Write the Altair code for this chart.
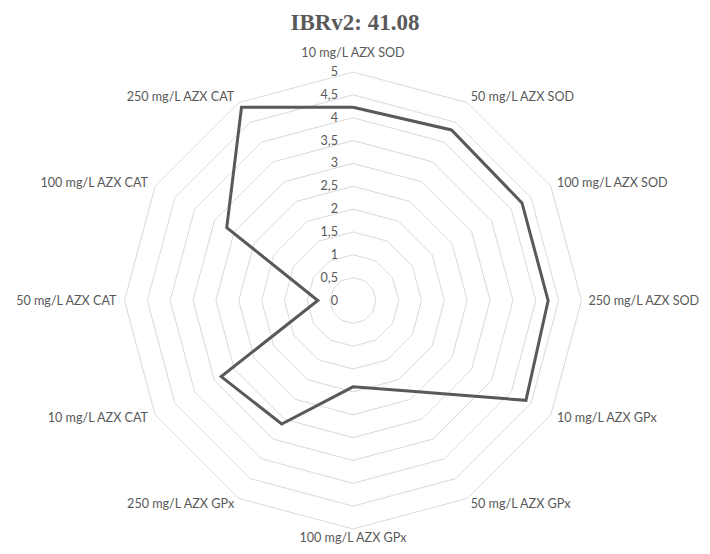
import altair as alt
import pandas as pd

# ---- data ----
categories = [
    "10 mg/L AZX SOD", "50 mg/L AZX SOD", "100 mg/L AZX SOD", "250 mg/L AZX SOD",
    "10 mg/L AZX GPx", "50 mg/L AZX GPx", "100 mg/L AZX GPx", "250 mg/L AZX GPx",
    "10 mg/L AZX CAT", "50 mg/L AZX CAT", "100 mg/L AZX CAT", "250 mg/L AZX CAT",
]
values = [4.23, 4.31, 4.27, 4.27, 4.37, 2.28, 1.89, 3.12, 3.33, 0.77, 3.19, 4.88]
tick_values = [0, 0.5, 1, 1.5, 2, 2.5, 3, 3.5, 4, 4.5, 5]
tick_labels = ["0", "0,5", "1", "1,5", "2", "2,5", "3", "3,5", "4", "4,5", "5"]
title_text = "IBRv2: 41.08"

# ---- layout ----
N = len(categories)
R_MAX = tick_values[-1]
PX = 45.7            # pixels per unit
W, H = 694, 538      # plot area (whole page minus margins)
CX, CY = 345, 292.5  # centre of radar inside plot area

x_dom = [-CX / PX, (W - CX) / PX]
y_dom = [-(H - CY) / PX, CY / PX]
xs = alt.Scale(domain=x_dom, nice=False, zero=False)
ys = alt.Scale(domain=y_dom, nice=False, zero=False)


def X(f):
    return alt.X(f"{f}:Q", scale=xs, axis=None)


def Y(f):
    return alt.Y(f"{f}:Q", scale=ys, axis=None)


series_df = pd.DataFrame({
    "idx": list(range(N)) + [N],
    "value": values + [values[0]],
})
ring_df = pd.DataFrame([{"level": lv, "idx": i} for lv in tick_values[1:] for i in range(N + 1)])
label_df = pd.DataFrame({"idx": list(range(N)), "cat": categories})
tick_df = pd.DataFrame({"value": tick_values, "label": tick_labels})
title_df = pd.DataFrame({"t": [title_text]})

ang = f"datum.idx * 2 * PI / {N}"
GRID = "#d9d9d9"
TXT = "#595959"
FONT = "Lato"
FS = 12.6

rings = alt.Chart(ring_df).transform_calculate(
    px=f"datum.level * sin({ang})", py=f"datum.level * cos({ang})"
).mark_line(color=GRID, strokeWidth=1).encode(
    x=X("px"), y=Y("py"), detail="level:N", order="idx:Q"
)

series = alt.Chart(series_df).transform_calculate(
    px=f"datum.value * sin({ang})", py=f"datum.value * cos({ang})"
).mark_line(color=TXT, strokeWidth=3, strokeJoin="miter").encode(
    x=X("px"), y=Y("py"), order="idx:Q"
)

lr = R_MAX + 7 / PX
lab_base = alt.Chart(label_df).transform_calculate(
    px=f"{lr} * sin({ang})", py=f"{lr} * cos({ang})"
)
enc = dict(x=X("px"), y=Y("py"), text="cat:N")
lab_right = lab_base.transform_filter(f"datum.idx > 0 && datum.idx < {N // 2}").mark_text(
    align="left", baseline="middle", font=FONT, fontSize=FS, color=TXT).encode(**enc)
lab_left = lab_base.transform_filter(f"datum.idx > {N // 2}").mark_text(
    align="right", baseline="middle", dx=-1, font=FONT, fontSize=FS, color=TXT).encode(**enc)
lab_top = lab_base.transform_filter("datum.idx == 0").mark_text(
    align="center", baseline="bottom", dy=-5, font=FONT, fontSize=FS, color=TXT).encode(**enc)
lab_bot = lab_base.transform_filter(f"datum.idx == {N // 2}").mark_text(
    align="center", baseline="middle", dy=2, font=FONT, fontSize=FS, color=TXT).encode(**enc)

ticks = alt.Chart(tick_df).transform_calculate(px="0").mark_text(
    align="right", baseline="middle", dx=-15, font=FONT, fontSize=FS, color=TXT
).encode(x=X("px"), y=Y("value"), text="label:N")

title = alt.Chart(title_df).mark_text(
    align="center", baseline="middle", font="Liberation Serif", fontSize=23,
    fontWeight="bold", color=TXT
).encode(x=alt.value(347), y=alt.value(15), text="t:N")

chart = alt.layer(rings, series, ticks, lab_right, lab_left, lab_top, lab_bot, title).properties(
    width=W, height=H,
    autosize=alt.AutoSizeParams(type="none"),
    padding=0,
).configure_view(stroke=None)

chart.save("out.html", embed_options={"renderer": "svg", "actions": False})
